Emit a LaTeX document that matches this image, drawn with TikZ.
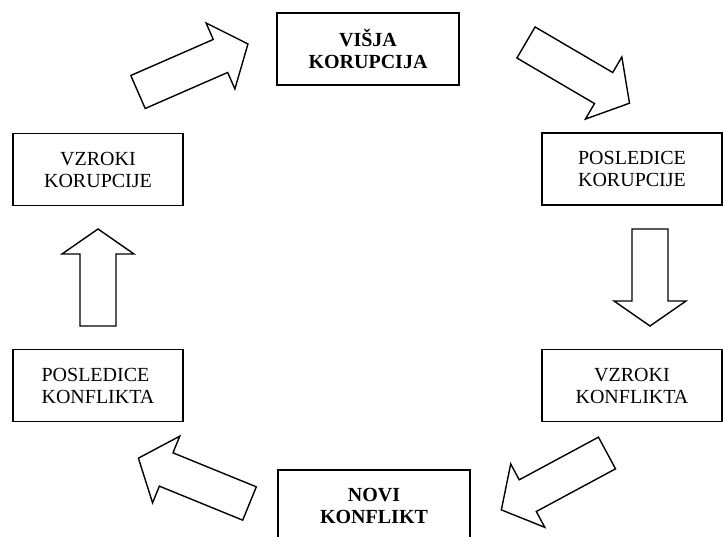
\documentclass[tikz,border=0pt]{standalone}
\usepackage{fontspec}
\setmainfont{Liberation Serif}
\tikzset{
  box/.style={draw, line width=1.8pt, align=center, inner sep=0pt, minimum height=72pt, font=\fontsize{20}{22}\selectfont},
  pics/blockarrow/.style 2 args={code={
    \draw[line width=1.4pt, line join=miter] (0,-18) -- (#1-#2,-18) -- (#1-#2,-36) -- (#1,0) -- (#1-#2,36) -- (#1-#2,18) -- (0,18) -- cycle;}}
}
\begin{document}
\begin{tikzpicture}[x=1pt, y=1pt]
    \useasboundingbox (0,0) rectangle (723,537);

        \node[box, minimum width=182pt] (visja) at (368,488) {\bfseries VIŠJA\\\bfseries KORUPCIJA};
        \node[box, minimum width=180pt] (poskor) at (632,368) {POSLEDICE\\KORUPCIJE};
        \node[box, minimum width=180pt] (vzrkon) at (632,151.5) {VZROKI\\KONFLIKTA};
        \node[box, minimum width=192pt] (novi) at (374,31) {\bfseries NOVI\\\bfseries KONFLIKT};
        \node[box, minimum width=170pt, align=left] (poskon) at (98,151.5) {POSLEDICE\\KONFLIKTA};
        \node[box, minimum width=170pt] (vzrkor) at (98,367.5) {VZROKI\\KORUPCIJE};

        \pic[rotate=23.6] at (138,445) {blockarrow={120}{30}};
        \pic[rotate=-30.4] at (526,494.5) {blockarrow={120}{30}};
        \pic[rotate=-90] at (650,308) {blockarrow={97}{25}};
        \pic[rotate=208.3] at (607,84) {blockarrow={120}{30}};
        \pic[rotate=157.8] at (249.5,33.5) {blockarrow={120}{30}};
        \pic[rotate=90] at (98,211) {blockarrow={97}{25}};
    \end{tikzpicture}
\end{document}
